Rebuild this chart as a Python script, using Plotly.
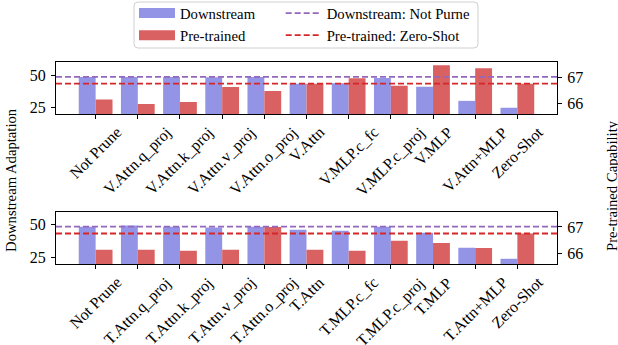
import plotly.graph_objects as go

# ---------------- data ----------------
top_categories = ["Not Prune", "V.Attn.q_proj", "V.Attn.k_proj", "V.Attn.v_proj", "V.Attn.o_proj",
                  "V.Attn", "V.MLP.c_fc", "V.MLP.c_proj", "V.MLP", "V.Attn+MLP", "Zero-Shot"]
top_downstream = [48.5, 48.5, 48.5, 48.2, 48.5, 43.35, 43.6, 47.7, 41.05, 30.1, 24.8]
top_pretrained = [66.14, 65.97, 66.05, 66.62, 66.47, 66.75, 66.96, 66.67, 67.46, 67.34, 66.75]

bot_categories = ["Not Prune", "T.Attn.q_proj", "T.Attn.k_proj", "T.Attn.v_proj", "T.Attn.o_proj",
                  "T.Attn", "T.MLP.c_fc", "T.MLP.c_proj", "T.MLP", "T.Attn+MLP", "Zero-Shot"]
bot_downstream = [48.5, 49.5, 48.5, 48.0, 48.5, 46.2, 45.4, 48.5, 43.9, 32.4, 24.0]
bot_pretrained = [66.13, 66.13, 66.09, 66.13, 67.0, 66.13, 66.09, 66.47, 66.39, 66.20, 66.75]

left_ticks = [25, 50]
right_ticks = [66, 67]

# ---------------- style ----------------
FONT = "'Liberation Serif', 'Times New Roman', Times, serif"
FS = 14.7      # legend / axis titles
TFS = 16       # tick labels
BLUE = "#9494e6"
RED = "#d96161"
PURPLE_LINE = "#9467bd"
RED_LINE = "#d62728"

fig = go.Figure()

panels = [
    (top_categories, top_downstream, top_pretrained, "x", "y", "y2"),
    (bot_categories, bot_downstream, bot_pretrained, "x2", "y3", "y4"),
]

for cats, ds, pt, xa, ya, ya2 in panels:
    fig.add_trace(go.Bar(x=cats, y=ds, xaxis=xa, yaxis=ya, marker_color=BLUE,
                         marker_line_width=0, width=0.4, offset=-0.4, showlegend=False))
    fig.add_trace(go.Bar(x=cats, y=pt, xaxis=xa, yaxis=ya2, marker_color=RED,
                         marker_line_width=0, width=0.4, offset=0.0, showlegend=False))
    fig.add_shape(type="line", xref=f"{xa} domain", yref=ya, x0=0, x1=1, y0=ds[0], y1=ds[0],
                  line=dict(color=PURPLE_LINE, width=1.8, dash="6px,3px"))
    fig.add_shape(type="line", xref=f"{xa} domain", yref=ya2, x0=0, x1=1, y0=pt[-1], y1=pt[-1],
                  line=dict(color=RED_LINE, width=1.8, dash="6px,3px"))

# legend entries
fig.add_trace(go.Scatter(x=[None], y=[None], mode="lines", name="Downstream",
                         line=dict(color=BLUE, width=10), legend="legend"))
fig.add_trace(go.Scatter(x=[None], y=[None], mode="lines", name="Pre-trained",
                         line=dict(color=RED, width=10), legend="legend"))
fig.add_trace(go.Scatter(x=[None], y=[None], mode="lines", name="Downstream: Not Purne",
                         line=dict(color=PURPLE_LINE, width=1.8, dash="6px,3px"), legend="legend2"))
fig.add_trace(go.Scatter(x=[None], y=[None], mode="lines", name="Pre-trained: Zero-Shot",
                         line=dict(color=RED_LINE, width=1.8, dash="6px,3px"), legend="legend2"))

TOP_DOM = [0.7426, 1.0]
BOT_DOM = [0.0, 0.259]

xcommon = dict(type="category", range=[-0.94, 10.94], showline=True, linecolor="black",
               linewidth=1, mirror=True, ticks="outside", ticklen=4, tickcolor="black",
               showticklabels=False, showgrid=False, zeroline=False, fixedrange=True)
ycommon = dict(showline=True, linecolor="black", linewidth=1, ticks="outside", ticklen=4,
               tickcolor="black", showgrid=False, zeroline=False, fixedrange=True,
               tickfont=dict(family=FONT, size=TFS, color="black"), ticklabelstandoff=2)

fig.update_layout(
    width=618, height=345,
    margin=dict(l=56, r=61, t=62, b=81, autoexpand=False),
    paper_bgcolor="white", plot_bgcolor="white",
    barmode="overlay",
    hovermode=False,
    font=dict(family=FONT, size=FS, color="black"),
    xaxis=dict(domain=[0, 1], anchor="y", **xcommon),
    yaxis=dict(domain=TOP_DOM, anchor="x", range=[20, 60], tickvals=left_ticks, **ycommon),
    yaxis2=dict(overlaying="y", side="right", anchor="x", range=[65.59, 67.58],
                tickvals=right_ticks, **ycommon),
    xaxis2=dict(domain=[0, 1], anchor="y3", **xcommon),
    yaxis3=dict(domain=BOT_DOM, anchor="x2", range=[20, 60], tickvals=left_ticks, **ycommon),
    yaxis4=dict(overlaying="y3", side="right", anchor="x2", range=[65.59, 67.58],
                tickvals=right_ticks, **ycommon),
    legend=dict(x=0.1557, y=1.3218, xanchor="left", yanchor="top", bgcolor="rgba(0,0,0,0)",
                borderwidth=0, itemwidth=36, font=dict(family=FONT, size=FS, color="black"),
                tracegroupgap=0),
    legend2=dict(x=0.4485, y=1.3218, xanchor="left", yanchor="top", bgcolor="rgba(0,0,0,0)",
                 borderwidth=0, itemwidth=36, font=dict(family=FONT, size=FS, color="black"),
                 tracegroupgap=0),
)

# legend frame (rounded rectangle, paper coords)
x0, x1, y0, y1 = 0.1557, 0.8423, 1.0693, 1.297
rx, ry = 4 / 501, 4 / 202
path = (f"M{x0+rx},{y0} L{x1-rx},{y0} Q{x1},{y0} {x1},{y0+ry} L{x1},{y1-ry} "
        f"Q{x1},{y1} {x1-rx},{y1} L{x0+rx},{y1} Q{x0},{y1} {x0},{y1-ry} "
        f"L{x0},{y0+ry} Q{x0},{y0} {x0+rx},{y0} Z")
fig.add_shape(type="path", xref="paper", yref="paper", path=path,
              line=dict(color="#d0d0d0", width=1), fillcolor="rgba(255,255,255,0.8)", layer="below")

# rotated category labels (center-aligned like the reference)
for cats, xa, dom in [(top_categories, "x", TOP_DOM), (bot_categories, "x2", BOT_DOM)]:
    for c in cats:
        fig.add_annotation(x=c, xref=xa, y=dom[0], yref="paper", text=c, showarrow=False,
                           textangle=-45, xanchor="center", yanchor="top", yshift=-7,
                           font=dict(family=FONT, size=TFS, color="black"))

# axis titles
fig.add_annotation(x=-0.0898, y=0.416, xref="paper", yref="paper", text="Downstream Adaptation",
                   showarrow=False, textangle=-90, xanchor="center", yanchor="middle",
                   font=dict(family=FONT, size=FS, color="black"))
fig.add_annotation(x=1.1098, y=0.386, xref="paper", yref="paper", text="Pre-trained Capability",
                   showarrow=False, textangle=-90, xanchor="center", yanchor="middle",
                   font=dict(family=FONT, size=FS, color="black"))

fig.write_html("out.html", config={"displayModeBar": False},
               post_script="document.body.style.margin='0';")
